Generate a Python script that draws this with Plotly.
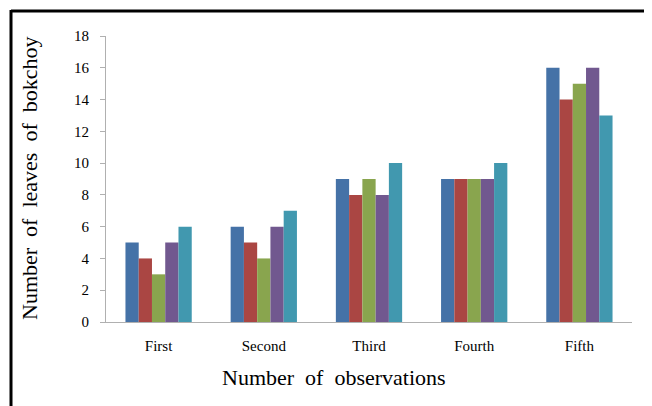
import plotly.graph_objects as go

categories = ["First", "Second", "Third", "Fourth", "Fifth"]
series_1 = [5, 6, 9, 9, 16]
series_2 = [4, 5, 8, 9, 14]
series_3 = [3, 4, 9, 9, 15]
series_4 = [5, 6, 8, 9, 16]
series_5 = [6, 7, 10, 10, 13]
colors = ["#4572A7", "#AA4643", "#89A54E", "#71588F", "#4198AF"]
y_ticks = [0, 2, 4, 6, 8, 10, 12, 14, 16, 18]
x_title = "Number  of  observations"
y_title = "Number  of  leaves  of  bokchoy"

fig = go.Figure()
for vals, c in zip([series_1, series_2, series_3, series_4, series_5], colors):
    fig.add_trace(go.Bar(x=categories, y=vals, marker=dict(color=c, line=dict(width=0)),
                         showlegend=False))

# page body has an 8px default margin: lay out in screen pixels minus that offset
OFF = 8
W, H = 652 - OFF, 406 - OFF
L, T = 106 - OFF, 36 - OFF
pw, ph = 526, 286
R = W - L - pw
B = H - T - ph

def px(x):
    return (x - OFF - L) / pw

def py(y):
    return (T + ph - (y - OFF)) / ph

# frame: only its left and top edges are inside the picture
fig.add_shape(type="line", xref="paper", yref="paper",
              x0=px(11), x1=px(700), y0=py(11), y1=py(11),
              line=dict(color="black", width=3), layer="above")
fig.add_shape(type="line", xref="paper", yref="paper",
              x0=px(11), x1=px(11), y0=py(10), y1=py(450),
              line=dict(color="black", width=3), layer="above")

font_family = "Liberation Serif, Times New Roman, serif"
fig.add_annotation(text=x_title.replace(" ", "\u00a0"), xref="paper", yref="paper",
                   x=px(334), y=py(377), showarrow=False, xanchor="center", yanchor="middle",
                   font=dict(size=22, family=font_family, color="black"))
fig.add_annotation(text=y_title.replace(" ", "\u00a0"), xref="paper", yref="paper",
                   x=px(29), y=py(179), showarrow=False, xanchor="center", yanchor="middle",
                   textangle=-90, font=dict(size=22, family=font_family, color="black"))

fig.update_layout(
    width=W, height=H,
    margin=dict(l=L, r=R, t=T, b=B),
    paper_bgcolor="white", plot_bgcolor="white",
    barmode="group", bargap=0.37, bargroupgap=0,
    font=dict(family=font_family, color="black"),
    xaxis=dict(showline=True, linecolor="#B0B0B0", linewidth=1, ticks="",
               tickfont=dict(size=15, family=font_family), automargin=False,
               ticklabelstandoff=10,
               showgrid=False, zeroline=False),
    yaxis=dict(range=[0, 18], tickvals=y_ticks, showline=True, linecolor="#B0B0B0", linewidth=1,
               ticks="outside", ticklen=5, tickcolor="#B0B0B0", automargin=False,
               tickfont=dict(size=15, family=font_family), ticklabelstandoff=8,
               showgrid=False, zeroline=False),
)

fig.write_html("out.html")
